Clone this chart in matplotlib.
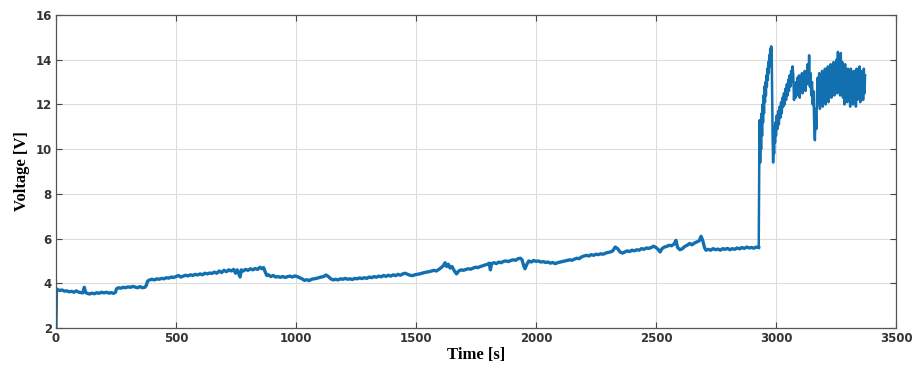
import matplotlib
matplotlib.use("Agg")
import matplotlib.pyplot as plt

# ---- data ----
t_base = [0, 2, 5, 15, 25, 35, 45, 55, 65, 75, 85, 95, 105, 112, 118, 123, 130, 140, 150, 160,
          170, 180, 190, 200, 210, 220, 230, 240, 248, 252, 260, 270, 280, 290, 300, 310, 320,
          330, 340, 350, 360, 370, 376, 382, 390, 400, 410, 420, 430, 440, 450, 460, 470, 480,
          490, 500, 510, 520, 530, 540, 550, 560, 570, 580, 590, 600, 610, 620, 630, 640, 650,
          660, 670, 680, 690, 700, 710, 720, 730, 740, 748, 755, 767, 772, 780, 790, 800, 810,
          820, 830, 840, 850, 858, 865, 872, 878, 885, 895, 905, 915, 925, 935, 945, 955, 965,
          975, 985, 995, 1005, 1015, 1025, 1035, 1045, 1055, 1065, 1075, 1085, 1095, 1105, 1115,
          1125, 1135, 1145, 1155, 1165, 1175, 1185, 1195, 1205, 1215, 1225, 1235, 1245, 1255,
          1265, 1275, 1285, 1295, 1305, 1315, 1325, 1335, 1345, 1355, 1365, 1375, 1385, 1395,
          1405, 1415, 1425, 1435, 1445, 1455, 1465, 1475, 1485, 1495, 1505, 1515, 1525, 1535,
          1545, 1555, 1565, 1575, 1585, 1595, 1605, 1615, 1621, 1628, 1635, 1642, 1650, 1660,
          1669, 1678, 1688, 1698, 1708, 1718, 1728, 1738, 1748, 1758, 1768, 1778, 1788, 1798,
          1805, 1810, 1815, 1825, 1835, 1845, 1855, 1865, 1875, 1885, 1895, 1905, 1915, 1925,
          1935, 1942, 1948, 1954, 1962, 1970, 1980, 1990, 2000, 2010, 2020, 2030, 2040, 2050,
          2060, 2070, 2080, 2090, 2100, 2110, 2120, 2130, 2140, 2150, 2160, 2170, 2180, 2190,
          2200, 2210, 2220, 2230, 2240, 2250, 2260, 2270, 2280, 2290, 2300, 2310, 2320, 2330,
          2340, 2350, 2360, 2370, 2380, 2390, 2400, 2410, 2420, 2430, 2440, 2450, 2460, 2470,
          2480, 2490, 2500, 2510, 2517, 2525, 2535, 2545, 2555, 2565, 2575, 2583, 2590, 2600,
          2610, 2620, 2630, 2640, 2650, 2660, 2670, 2680, 2688, 2695, 2702, 2708, 2718, 2728,
          2738, 2748, 2758, 2768, 2778, 2788, 2798, 2808, 2818, 2828, 2838, 2848, 2858, 2868,
          2878, 2888, 2898, 2908, 2918, 2928]
v_base = [2.05, 3.75, 3.72, 3.68, 3.70, 3.65, 3.66, 3.62, 3.64, 3.60, 3.66, 3.60, 3.58, 3.57,
          3.82, 3.60, 3.55, 3.52, 3.56, 3.53, 3.58, 3.55, 3.60, 3.57, 3.60, 3.56, 3.58, 3.55,
          3.60, 3.75, 3.80, 3.78, 3.82, 3.80, 3.84, 3.82, 3.86, 3.83, 3.80, 3.85, 3.80, 3.82,
          3.90, 4.10, 4.15, 4.18, 4.15, 4.20, 4.18, 4.22, 4.20, 4.25, 4.23, 4.28, 4.26, 4.30,
          4.35, 4.28, 4.32, 4.36, 4.33, 4.38, 4.35, 4.40, 4.37, 4.42, 4.38, 4.45, 4.42, 4.46,
          4.44, 4.50, 4.45, 4.55, 4.48, 4.58, 4.52, 4.60, 4.55, 4.62, 4.45, 4.60, 4.28, 4.60,
          4.55, 4.62, 4.58, 4.65, 4.60, 4.66, 4.62, 4.72, 4.65, 4.70, 4.50, 4.35, 4.38, 4.30,
          4.35, 4.28, 4.30, 4.27, 4.30, 4.26, 4.30, 4.32, 4.28, 4.33, 4.30, 4.25, 4.20, 4.13,
          4.16, 4.12, 4.18, 4.20, 4.22, 4.25, 4.28, 4.30, 4.37, 4.30, 4.20, 4.15, 4.18, 4.15,
          4.20, 4.18, 4.22, 4.18, 4.20, 4.17, 4.22, 4.20, 4.24, 4.21, 4.25, 4.22, 4.28, 4.25,
          4.30, 4.27, 4.32, 4.29, 4.35, 4.31, 4.36, 4.32, 4.38, 4.34, 4.40, 4.36, 4.42, 4.45,
          4.40, 4.36, 4.34, 4.38, 4.40, 4.42, 4.45, 4.48, 4.50, 4.52, 4.55, 4.58, 4.55, 4.62,
          4.70, 4.80, 4.92, 4.75, 4.85, 4.68, 4.75, 4.55, 4.42, 4.55, 4.60, 4.58, 4.62, 4.65,
          4.63, 4.68, 4.72, 4.70, 4.75, 4.78, 4.82, 4.85, 4.90, 4.60, 4.88, 4.92, 4.88, 4.95,
          4.92, 4.98, 5.00, 4.97, 5.02, 5.05, 5.03, 5.10, 5.12, 5.05, 4.80, 4.65, 4.85, 5.00,
          4.95, 5.02, 4.98, 5.00, 4.95, 4.97, 4.93, 4.95, 4.90, 4.93, 4.88, 4.92, 4.95, 4.97,
          5.00, 5.02, 5.05, 5.03, 5.08, 5.12, 5.10, 5.18, 5.22, 5.25, 5.22, 5.28, 5.25, 5.30,
          5.28, 5.32, 5.30, 5.35, 5.38, 5.40, 5.45, 5.62, 5.55, 5.40, 5.35, 5.40, 5.45, 5.42,
          5.48, 5.45, 5.50, 5.48, 5.55, 5.52, 5.58, 5.56, 5.60, 5.66, 5.60, 5.50, 5.40, 5.55,
          5.62, 5.65, 5.70, 5.68, 5.75, 5.92, 5.60, 5.50, 5.55, 5.65, 5.70, 5.78, 5.72, 5.80,
          5.85, 5.90, 6.10, 5.90, 5.60, 5.48, 5.52, 5.48, 5.55, 5.50, 5.53, 5.48, 5.55, 5.52,
          5.56, 5.50, 5.55, 5.52, 5.58, 5.54, 5.60, 5.56, 5.62, 5.58, 5.60, 5.57, 5.62, 5.60]

t_noisy = [2930, 2932, 2934, 2936, 2938, 2940, 2942, 2944, 2946, 2948, 2950, 2952, 2954, 2956,
           2958, 2960, 2962, 2964, 2966, 2968, 2970, 2972, 2974, 2976, 2978, 2980, 2982, 2984,
           2986, 2988, 2990, 2992, 2994, 2996, 2998, 3000, 3003, 3006, 3009, 3012, 3015, 3018,
           3021, 3024, 3027, 3030, 3033, 3036, 3039, 3042, 3045, 3048, 3051, 3054, 3057, 3060,
           3063, 3066, 3069, 3072, 3075, 3078, 3081, 3084, 3087, 3090, 3093, 3096, 3099, 3102,
           3105, 3108, 3111, 3114, 3117, 3120, 3123, 3126, 3129, 3132, 3135, 3138, 3141, 3144,
           3147, 3150, 3153, 3156, 3159, 3162, 3165, 3168, 3171, 3174, 3177, 3180, 3183, 3186,
           3189, 3192, 3195, 3198, 3201, 3204, 3207, 3210, 3213, 3216, 3219, 3222, 3225, 3228,
           3231, 3234, 3237, 3240, 3243, 3246, 3249, 3252, 3255, 3258, 3261, 3264, 3267, 3270,
           3273, 3276, 3279, 3282, 3285, 3288, 3291, 3294, 3297, 3300, 3303, 3306, 3309, 3312,
           3315, 3318, 3321, 3324, 3327, 3330, 3333, 3336, 3339, 3342, 3345, 3348, 3351, 3354,
           3357, 3360, 3363, 3366, 3369, 3371]
v_noisy = [9.0, 11.3, 9.4, 10.8, 10.0, 11.6, 10.6, 12.0, 11.2, 12.4, 11.6, 12.8, 12.1, 13.0,
           12.4, 13.3, 12.8, 13.6, 13.1, 13.9, 13.4, 14.2, 13.7, 14.5, 14.0, 14.6, 14.3, 12.5,
           10.5, 9.4, 10.6, 9.8, 11.0, 10.3, 11.2, 10.6, 11.5, 10.9, 11.7, 11.1, 11.9, 11.4,
           12.1, 11.6, 12.3, 11.9, 12.5, 12.0, 12.7, 12.2, 12.9, 12.4, 13.1, 12.6, 13.3, 12.8,
           13.5, 13.0, 13.7, 13.3, 12.2, 12.8, 12.3, 13.0, 12.4, 13.2, 12.5, 13.3, 12.3, 13.1,
           12.6, 13.4, 12.5, 13.2, 12.7, 13.5, 12.6, 13.4, 12.9, 13.8, 13.0, 14.2, 12.8, 13.4,
           12.4, 13.0, 12.0, 12.6, 11.2, 10.4, 11.8, 10.9, 12.5, 13.2, 12.0, 13.4, 11.8, 13.0,
           12.2, 13.5, 11.9, 13.3, 12.3, 13.6, 12.0, 13.4, 12.4, 13.7, 12.1, 13.5, 12.5, 13.8,
           12.3, 13.6, 12.6, 13.9, 12.4, 13.7, 12.7, 14.0, 12.5, 14.35, 12.8, 14.1, 12.4, 14.3,
           12.6, 13.9, 12.3, 13.7, 12.0, 13.8, 12.4, 13.5, 12.1, 13.6, 12.3, 13.4, 11.9, 13.6,
           12.2, 13.3, 12.0, 13.5, 12.3, 13.4, 11.9, 13.6, 12.2, 13.3, 12.4, 13.7, 12.1, 13.5,
           12.3, 13.4, 12.2, 13.6, 12.5, 13.3]

x_ticks = [0, 500, 1000, 1500, 2000, 2500, 3000, 3500]
y_ticks = [2, 4, 6, 8, 10, 12, 14, 16]

line_color = "#1370b0"

fig = plt.figure(figsize=(9.15, 3.72), dpi=100)
ax = fig.add_axes([56/915, 1-328/372, 840/915, 313/372])

ax.plot(t_base, v_base, color=line_color, linewidth=2.4, solid_joinstyle="round")
ax.plot(t_base[-1:] + t_noisy, v_base[-1:] + v_noisy, color=line_color, linewidth=1.8)

ax.set_xlim(0, 3500)
ax.set_ylim(2, 16)
ax.set_xticks(x_ticks)
ax.set_yticks(y_ticks)
ax.set_xticklabels([str(x) for x in x_ticks], fontsize=8.5, fontweight="bold", color="#333333")
ax.set_yticklabels([str(y) for y in y_ticks], fontsize=8.5, fontweight="bold", color="#333333")
ax.grid(True, color="#dcdcdc", linewidth=0.8)
ax.set_axisbelow(True)
ax.tick_params(direction="in", length=4, width=0.8, color="#444444",
               top=True, right=True, pad=3)
for s in ax.spines.values():
    s.set_color("#555555")
    s.set_linewidth(0.9)

ax.set_xlabel("Time [s]", fontsize=12, fontweight="bold", family="Liberation Serif", labelpad=1)
ax.set_ylabel("Voltage [V]", fontsize=12, fontweight="bold", family="Liberation Serif", labelpad=4)

fig.savefig("out.png", dpi=100)
